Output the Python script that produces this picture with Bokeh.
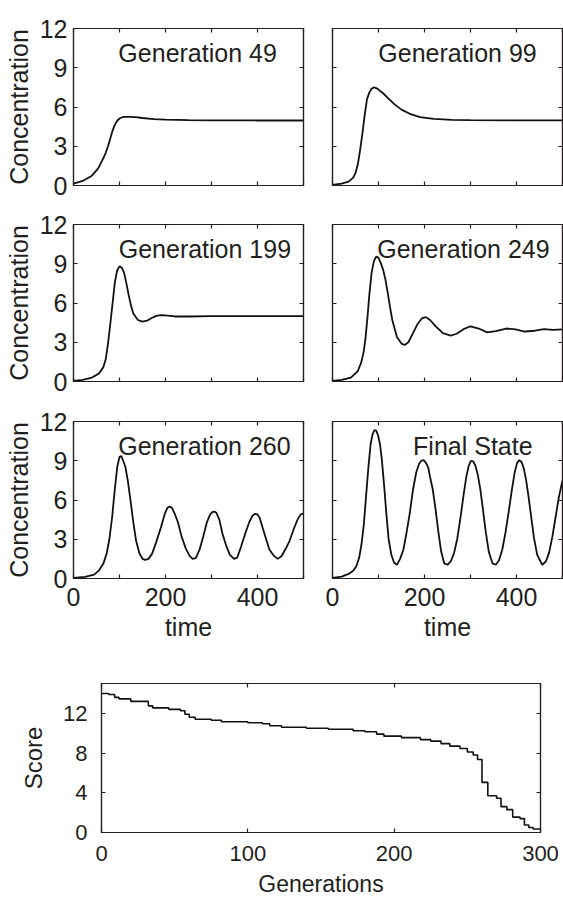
from bokeh.plotting import figure
from bokeh.models import LinearAxis, FixedTicker, Range1d, Label
from bokeh.layouts import column, row
from bokeh.embed import file_html
from bokeh.resources import INLINE

INK = "#231f20"
FONT = "Liberation Sans"

# ---------------- data ----------------
time_major = [0, 200, 400]
time_minor = [100, 300, 500]
conc_ticks = [0, 3, 6, 9, 12]

t_g49 = [0, 20, 40, 50, 55, 60, 65, 70, 75, 80, 85, 90, 95, 100, 105, 110, 120, 135, 150, 175, 200, 250, 300, 400, 500]
c_g49 = [0.15, 0.35, 0.75, 1.15, 1.4, 1.75, 2.1, 2.5, 3.0, 3.6, 4.2, 4.65, 4.95, 5.12, 5.2, 5.24, 5.25, 5.22, 5.16, 5.08, 5.03, 5.0, 4.98, 4.97, 4.97]

t_g99 = [0, 20, 35, 45, 50, 55, 60, 65, 70, 75, 80, 85, 90, 95, 100, 110, 120, 135, 150, 170, 190, 220, 260, 300, 400, 500]
c_g99 = [0.05, 0.15, 0.3, 0.6, 0.95, 1.6, 2.7, 3.96, 5.4, 6.6, 7.1, 7.4, 7.5, 7.45, 7.33, 7.05, 6.7, 6.2, 5.8, 5.45, 5.23, 5.1, 5.02, 5.0, 4.98, 4.98]

t_g199 = [0, 20, 40, 55, 65, 70, 75, 80, 85, 90, 95, 100, 105, 110, 115, 120, 125, 130, 140, 150, 160, 170, 180, 190, 200, 220, 250, 300, 400, 500]
c_g199 = [0.05, 0.12, 0.3, 0.6, 1.1, 1.7, 2.9, 4.4, 6.0, 7.6, 8.5, 8.8, 8.7, 8.3, 7.5, 6.6, 5.8, 5.2, 4.7, 4.57, 4.65, 4.85, 5.02, 5.08, 5.05, 4.97, 4.97, 5.0, 5.0, 5.0]

t_g249 = [0, 20, 40, 55, 62, 68, 72, 76, 80, 85, 90, 95, 100, 105, 110, 115, 120, 125, 130, 140, 150, 157, 165, 175, 185, 195, 203, 212, 225, 240, 257, 270, 285, 300, 318, 336, 355, 378, 398, 418, 440, 460, 480, 500]
c_g249 = [0.05, 0.12, 0.3, 0.8, 1.4, 2.3, 3.4, 4.9, 6.6, 8.3, 9.2, 9.55, 9.45, 9.05, 8.55, 7.8, 6.8, 5.7, 4.7, 3.4, 2.9, 2.79, 3.0, 3.7, 4.4, 4.85, 4.92, 4.7, 4.2, 3.7, 3.5, 3.65, 4.0, 4.22, 4.05, 3.75, 3.85, 4.05, 3.98, 3.82, 3.88, 4.0, 3.95, 3.98]

t_g260 = [0, 25, 45, 55, 65, 72, 78, 84, 90, 95, 100, 104, 108, 113, 118, 124, 130, 136, 143, 150, 156, 163, 171, 180, 190, 198, 204, 209, 214, 220, 227, 235, 244, 252, 259, 266, 274, 282, 290, 297, 303, 307, 311, 317, 324, 332, 340, 349, 356, 364, 373, 382, 389, 395, 400, 405, 411, 418, 426, 435, 444, 452, 461, 470, 479, 487, 494, 500]
c_g260 = [0.05, 0.12, 0.3, 0.6, 1.15, 1.9, 3.0, 4.7, 6.9, 8.5, 9.3, 9.35, 9.0, 8.5, 7.5, 5.95, 4.3, 2.9, 1.95, 1.5, 1.42, 1.5, 1.9, 2.8, 3.9, 4.9, 5.4, 5.5, 5.4, 4.95, 4.3, 3.2, 2.3, 1.75, 1.5, 1.55, 2.2, 3.2, 4.3, 4.9, 5.1, 5.11, 5.0, 4.5, 3.4, 2.5, 1.8, 1.5, 1.6, 2.4, 3.4, 4.3, 4.8, 4.94, 4.9, 4.6, 3.9, 3.1, 2.2, 1.75, 1.5, 1.7, 2.25, 2.9, 3.8, 4.5, 4.9, 4.95]

t_final = [0, 20, 35, 45, 52, 58, 63, 68, 73, 78, 83, 87, 91, 95, 99, 103, 107, 112, 117, 122, 128, 134, 140, 147, 154, 161, 168, 175, 182, 188, 193, 198, 203, 208, 213, 218, 224, 230, 236, 243, 250, 257, 264, 271, 278, 285, 291, 296, 301, 306, 311, 316, 321, 327, 333, 340, 348, 355, 362, 369, 376, 383, 390, 396, 401, 406, 411, 416, 421, 426, 432, 438, 445, 456, 464, 471, 478, 485, 492, 500]
c_final = [0.05, 0.15, 0.35, 0.6, 0.95, 1.6, 2.6, 4.1, 6.3, 8.5, 10.3, 11.0, 11.35, 11.3, 10.95, 10.3, 9.2, 7.2, 5.0, 3.0, 1.8, 1.2, 1.05, 1.5, 2.2, 3.5, 5.0, 6.8, 8.1, 8.75, 9.0, 9.05, 8.85, 8.5, 7.6, 6.8, 5.3, 3.6, 2.1, 1.15, 1.05, 1.3, 1.9, 3.0, 4.6, 6.4, 7.8, 8.6, 9.0, 8.95, 8.6, 7.9, 6.9, 5.3, 3.6, 2.0, 1.15, 1.05, 1.4, 2.2, 3.5, 5.1, 6.8, 8.1, 8.8, 9.05, 8.9, 8.4, 7.5, 6.3, 4.7, 3.1, 1.8, 1.05, 1.3, 2.0, 3.2, 4.7, 6.2, 7.5]

gen_ticks = [0, 100, 200, 300]
score_ticks = [0, 4, 8, 12]
score_gen = [0, 5, 9, 12, 20, 32, 35, 46, 54, 57, 60, 64, 75, 82, 100, 110, 115, 123, 140, 155, 172, 180, 188, 193, 205, 218, 225, 232, 238, 245, 250, 254, 257, 260, 264, 270, 273, 277, 281, 286, 289, 292, 295, 300]
score_val = [14.0, 13.9, 13.6, 13.45, 13.2, 12.75, 12.55, 12.4, 12.25, 11.9, 11.6, 11.4, 11.3, 11.15, 11.05, 10.95, 10.75, 10.6, 10.5, 10.4, 10.25, 10.15, 9.9, 9.7, 9.55, 9.35, 9.2, 8.95, 8.7, 8.45, 8.1, 7.8, 7.35, 5.05, 3.7, 3.45, 2.6, 2.3, 1.55, 1.4, 0.75, 0.5, 0.35, 0.35]

panel_titles = ["Generation 49", "Generation 99", "Generation 199", "Generation 249", "Generation 260", "Final State"]


# ---------------- helpers ----------------
def add_axis(p, side, ticker, show_labels, size="25px", standoff=6, label=None,
             label_size="25px", label_standoff=4):
    ax = LinearAxis(ticker=ticker)
    ax.major_tick_in = 4
    ax.major_tick_out = 0
    ax.minor_tick_in = 4
    ax.minor_tick_out = 0
    ax.axis_line_color = INK
    ax.axis_line_width = 1.2
    ax.major_tick_line_color = INK
    ax.major_tick_line_width = 1.2
    ax.minor_tick_line_color = INK
    ax.minor_tick_line_width = 1.2
    if show_labels:
        ax.major_label_text_font = FONT
        ax.major_label_text_font_size = size
        ax.major_label_text_color = INK
        ax.major_label_standoff = standoff
    else:
        ax.major_label_text_font_size = "0px"
        ax.major_label_text_color = None
        ax.major_label_standoff = 0
    if label:
        ax.axis_label = label
        ax.axis_label_text_font = FONT
        ax.axis_label_text_font_size = label_size
        ax.axis_label_text_font_style = "normal"
        ax.axis_label_text_color = INK
        ax.axis_label_standoff = label_standoff
    p.add_layout(ax, side)
    return ax


def time_ticker():
    return FixedTicker(ticks=time_major, minor_ticks=time_minor)


def conc_ticker():
    return FixedTicker(ticks=conc_ticks, minor_ticks=[])


def panel(t, c, title, title_x, is_left, is_bottom, width, height, bl, br, bt, bb):
    p = figure(width=width, height=height, output_backend="svg", toolbar_location=None,
               x_range=Range1d(0, 500), y_range=Range1d(0, 12),
               x_axis_location=None, y_axis_location=None,
               min_border_left=bl, min_border_right=br, min_border_top=bt, min_border_bottom=bb)
    p.grid.visible = False
    p.outline_line_color = INK
    p.outline_line_width = 1.2
    p.background_fill_color = "white"
    p.border_fill_color = "white"
    p.line(t, c, line_color="#111111", line_width=1.8)
    add_axis(p, "left", conc_ticker(), is_left, label="Concentration" if is_left else None)
    add_axis(p, "right", conc_ticker(), False)
    add_axis(p, "above", time_ticker(), False)
    add_axis(p, "below", time_ticker(), is_bottom, standoff=9,
             label="time" if is_bottom else None, label_standoff=4)
    p.add_layout(Label(x=title_x, y=10.1, text=title, text_align="right",
                       text_baseline="alphabetic", text_font=FONT,
                       text_font_size="25px", text_color=INK))
    return p


LW, RW = 317, 246
p1 = panel(t_g49, c_g49, panel_titles[0], 442, True, False, LW, 204, 73, 14, 28, 19)
p2 = panel(t_g99, c_g99, panel_titles[1], 444, False, False, RW, 204, 15, 1, 28, 19)
p3 = panel(t_g199, c_g199, panel_titles[2], 473, True, False, LW, 197, 73, 14, 20, 20)
p4 = panel(t_g249, c_g249, panel_titles[3], 472, False, False, RW, 197, 15, 1, 20, 20)
p5 = panel(t_g260, c_g260, panel_titles[4], 472, True, True, LW, 252, 73, 14, 20, 75)
p6 = panel(t_final, c_final, panel_titles[5], 435, False, True, RW, 252, 15, 1, 20, 75)

p7 = figure(width=563, height=247, output_backend="svg", toolbar_location=None,
            x_range=Range1d(0, 300), y_range=Range1d(0, 15),
            x_axis_location=None, y_axis_location=None,
            min_border_left=101, min_border_right=23, min_border_top=30, min_border_bottom=68)
p7.grid.visible = False
p7.outline_line_color = INK
p7.outline_line_width = 1.2
p7.step(score_gen, score_val, mode="after", line_color="#111111", line_width=1.6)
add_axis(p7, "left", FixedTicker(ticks=score_ticks, minor_ticks=[]), True, size="22px",
         standoff=14, label="Score", label_size="24px", label_standoff=13)
add_axis(p7, "right", FixedTicker(ticks=score_ticks, minor_ticks=[]), False)
add_axis(p7, "above", FixedTicker(ticks=gen_ticks, minor_ticks=[]), False)
add_axis(p7, "below", FixedTicker(ticks=gen_ticks, minor_ticks=[]), True, size="22px",
         standoff=13, label="Generations", label_size="23px", label_standoff=7)

layout = column(row(p1, p2), row(p3, p4), row(p5, p6), p7)
open("out.html", "w").write(file_html(layout, INLINE))
